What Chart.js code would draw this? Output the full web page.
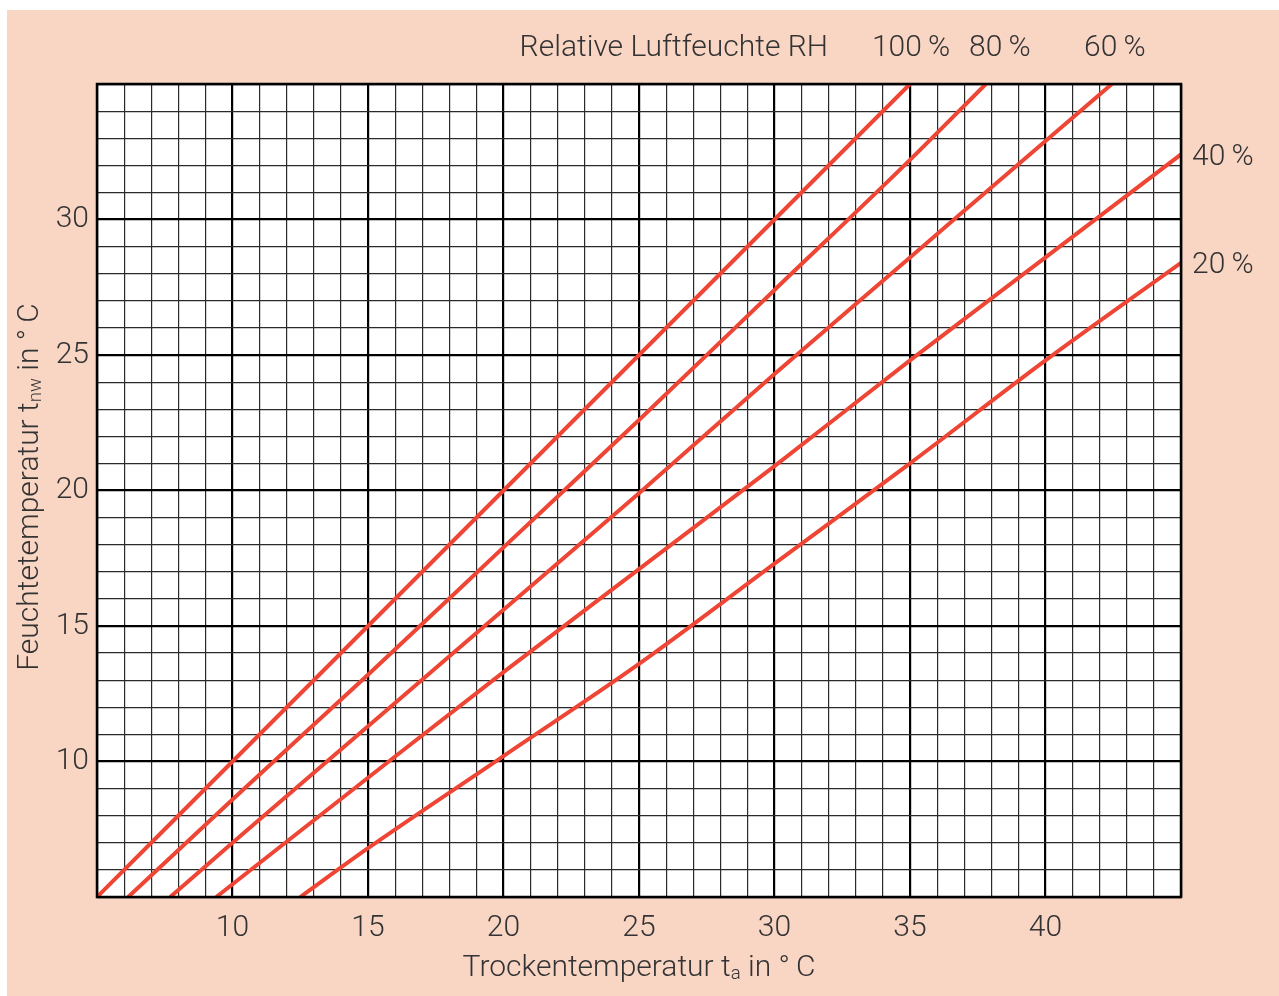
<!DOCTYPE html>
<html>
<head>
<meta charset="utf-8">
<script src="https://cdn.jsdelivr.net/npm/chart.js@4.4.1/dist/chart.umd.min.js"></script>
<style>
  html, body { margin: 0; padding: 0; background: #fff; }
  #sheet { position: absolute; left: 7px; top: 10px; width: 1272px; height: 986px; background: #f9d5c4; }
  #wrap { position: absolute; left: 0; top: 0; width: 1279px; height: 996px; }
</style>
</head>
<body>
<div id="sheet"></div>
<div id="wrap"><canvas id="chart"></canvas></div>
<script>
// dry bulb temperature (x) and wet bulb temperature (y)
const rhLabels = ['100\u2009%', '80\u2009%', '60\u2009%', '40\u2009%', '20\u2009%'];

const dry100 = [5, 10, 15, 20, 25, 30, 35];
const wet100 = [5, 10, 15, 20, 25, 30, 35];

const dry80 = [6.15, 10, 15, 20, 25, 30, 35, 37.8];
const wet80 = [5, 8.6, 13.2, 17.9, 22.6, 27.4, 32.2, 35];

const dry60 = [7.7, 10, 15, 20, 25, 30, 35, 40, 42.45];
const wet60 = [5, 7.0, 11.3, 15.6, 19.9, 24.3, 28.6, 32.9, 35];

const dry40 = [9.4, 15, 20, 25, 30, 35, 40, 45];
const wet40 = [5, 9.4, 13.3, 17.1, 20.9, 24.8, 28.6, 32.4];

const dry20 = [12.5, 15, 20, 25, 30, 35, 40, 45];
const wet20 = [5, 6.8, 10.2, 13.6, 17.3, 21.0, 24.8, 28.4];

const xTicks = [10, 15, 20, 25, 30, 35, 40];
const yTicks = [10, 15, 20, 25, 30];

const FONT = "'Roboto', 'Liberation Sans', sans-serif";
const TEXT = '#333333';
const RED = '#ee4534';

function toPoints(xs, ys) {
    return xs.map((x, i) => ({ x: x, y: ys[i] }));
}

function makeSet(label, xs, ys) {
    return {
        label: label,
        data: toPoints(xs, ys),
        borderColor: RED,
        borderWidth: 4,
        pointRadius: 0,
        fill: false,
        cubicInterpolationMode: 'monotone'
    };
}

function gridColor(ctx) {
    return ctx.tick && ctx.tick.value % 5 === 0 ? '#000' : '#2a2a2a';
}
function gridWidth(ctx) {
    return ctx.tick && ctx.tick.value % 5 === 0 ? 2.2 : 1.2;
}

// text with a subscript part, drawn at the current transform
function drawParts(ctx, parts, x, y, size) {
    let total = 0;
    parts.forEach(p => {
        ctx.font = `300 ${p.sub ? size * 0.62 : size}px ${FONT}`;
        p.w = ctx.measureText(p.t).width;
        total += p.w;
    });
    let cx = x - total / 2;
    parts.forEach(p => {
        ctx.font = `300 ${p.sub ? size * 0.62 : size}px ${FONT}`;
        ctx.fillText(p.t, cx, p.sub ? y + size * 0.2 : y);
        cx += p.w;
    });
}

const labelsPlugin = {
    id: 'labels',
    beforeDraw(chart) {
        const { ctx, chartArea: a } = chart;
        ctx.save();
        ctx.fillStyle = '#fff';
        ctx.fillRect(a.left, a.top, a.right - a.left, a.bottom - a.top);
        ctx.restore();
    },
    afterDraw(chart) {
        const { ctx, chartArea: a, scales } = chart;
        const xs = scales.x, ys = scales.y;
        ctx.save();
        ctx.strokeStyle = '#000';
        ctx.lineWidth = 2.5;
        ctx.strokeRect(a.left, a.top, a.right - a.left, a.bottom - a.top);

        ctx.fillStyle = TEXT;
        ctx.textBaseline = 'middle';

        // axis titles
        drawParts(ctx, [{ t: 'Trockentemperatur t' }, { t: 'a', sub: true }, { t: ' in \u00b0\u2009C' }],
            639, 968, 30);
        ctx.save();
        ctx.translate(30, 487);
        ctx.rotate(-Math.PI / 2);
        drawParts(ctx, [{ t: 'Feuchtetemperatur t' }, { t: 'nw', sub: true }, { t: ' in \u00b0\u2009C' }],
            0, 0, 30);
        ctx.restore();

        // humidity labels
        ctx.font = `300 30px ${FONT}`;
        ctx.textAlign = 'right';
        ctx.fillText('Relative Luftfeuchte RH', 828, 48);
        ctx.textAlign = 'center';
        const tops = [[dry100, 1], [dry80, 14], [dry60, 3]];
        tops.forEach((t, i) => {
            const lastX = t[0][t[0].length - 1];
            ctx.fillText(rhLabels[i], xs.getPixelForValue(lastX) + t[1], 48);
        });
        ctx.textAlign = 'left';
        [[wet40, 3], [wet20, 4]].forEach(s => {
            const lastY = s[0][s[0].length - 1];
            ctx.fillText(rhLabels[s[1]], a.right + 11, ys.getPixelForValue(lastY) + 3);
        });
        ctx.restore();
    }
};

const ctx = document.getElementById('chart');
new Chart(ctx, {
    type: 'line',
    data: {
        datasets: [
            makeSet(rhLabels[0], dry100, wet100),
            makeSet(rhLabels[1], dry80, wet80),
            makeSet(rhLabels[2], dry60, wet60),
            makeSet(rhLabels[3], dry40, wet40),
            makeSet(rhLabels[4], dry20, wet20)
        ]
    },
    options: {
        responsive: true,
        maintainAspectRatio: false,
        animation: false,
        devicePixelRatio: 1,
        layout: { padding: { top: 84, right: 98, bottom: 0, left: 0 } },
        plugins: { legend: { display: false }, tooltip: { enabled: false } },
        scales: {
            x: {
                type: 'linear',
                min: 5,
                max: 45,
                afterFit(scale) { scale.height = 99; },
                grid: { color: gridColor, lineWidth: gridWidth, drawTicks: false },
                border: { display: false },
                ticks: {
                    stepSize: 1,
                    autoSkip: false,
                    maxRotation: 0,
                    padding: 13,
                    color: TEXT,
                    font: { family: FONT, size: 30, weight: 300 },
                    callback: v => xTicks.includes(v) ? String(v) : ''
                }
            },
            y: {
                type: 'linear',
                min: 5,
                max: 35,
                afterFit(scale) { scale.width = 97; },
                grid: { color: gridColor, lineWidth: gridWidth, drawTicks: false },
                border: { display: false },
                ticks: {
                    stepSize: 1,
                    autoSkip: false,
                    padding: 8,
                    color: TEXT,
                    font: { family: FONT, size: 30, weight: 300 },
                    callback: v => yTicks.includes(v) ? String(v) : ''
                }
            }
        }
    },
    plugins: [labelsPlugin]
});
</script>
</body>
</html>
